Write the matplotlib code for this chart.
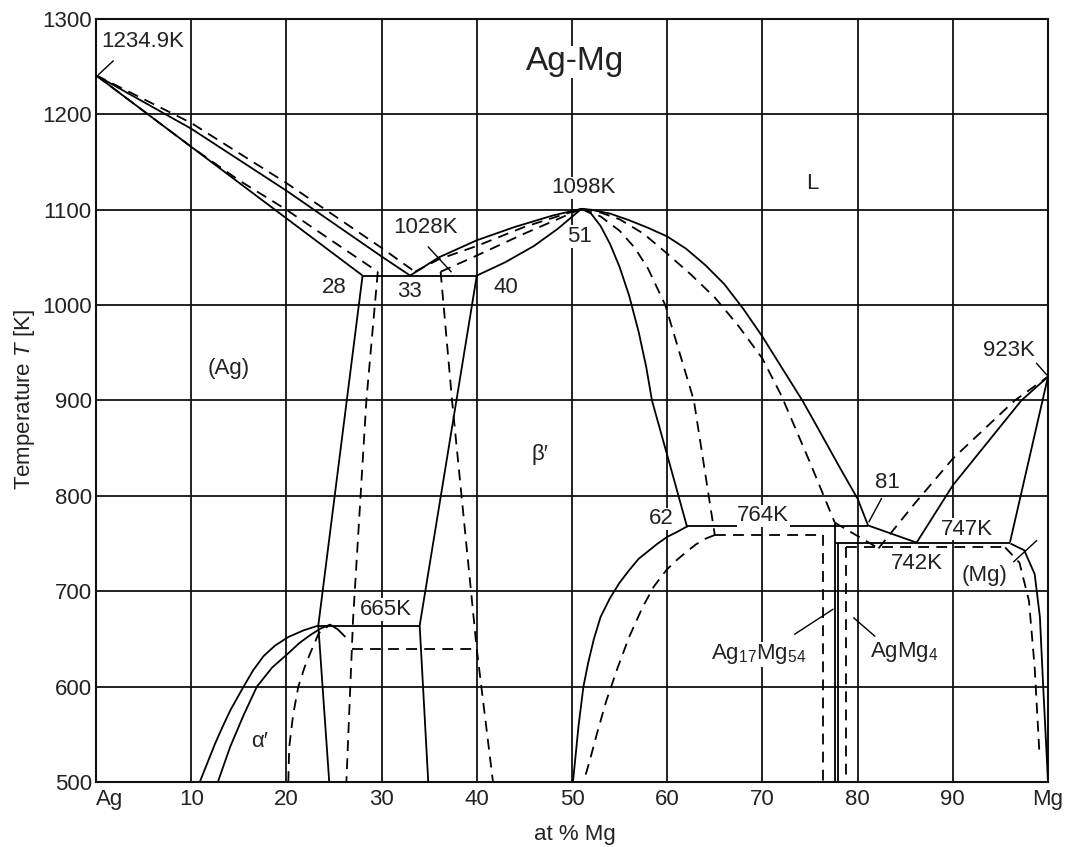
import matplotlib
matplotlib.use('Agg')
import matplotlib.pyplot as plt

plt.rcParams['font.family'] = ['Liberation Sans', 'DejaVu Sans']
plt.rcParams['mathtext.fontset'] = 'custom'
plt.rcParams['mathtext.rm'] = 'Liberation Sans'
plt.rcParams['mathtext.it'] = 'Liberation Sans:italic'

# ---- solid boundaries (x = at % Mg, t = temperature K) ----
liq_ag_x = [0, 10, 20, 30, 33]
liq_ag_t = [1241, 1185, 1120, 1051, 1031]
sol_ag_x = [0, 28]
sol_ag_t = [1241, 1031]
eut1_x = [28, 40]
eut1_t = [1031, 1031]
solvus_ag_x = [28, 23.35]
solvus_ag_t = [1031, 664]
beta_left_x = [40, 34.0, 34.9]
beta_left_t = [1031, 664, 500]
h665_x = [23.35, 34.0]
h665_t = [664, 664]
alpha_right_x = [23.35, 24.5]
alpha_right_t = [664, 500]
alpha_a_x = [10.9, 11.7, 12.5, 13.3, 14.1, 15.5, 16.5, 17.6, 18.8, 20.2, 21.8, 23.35]
alpha_a_t = [500, 520, 540, 558, 575, 600, 617, 632, 643, 652, 659, 664]
alpha_b_x = [12.8, 13.5, 14.1, 15.5, 16.9, 18.5, 20.2, 21.4, 22.5, 23.6, 24.6, 25.4, 26.2]
alpha_b_t = [500, 520, 537, 570, 600, 620, 635, 646, 654, 661, 665, 660, 652]
liq_bl_x = [33, 36, 40, 44, 48, 51]
liq_bl_t = [1031, 1050, 1068, 1082, 1094, 1101]
sol_bl_x = [40, 43, 46, 48.5, 51]
sol_bl_t = [1031, 1045, 1062, 1080, 1101]
sol_br_x = [51, 52, 53, 54, 55, 56, 57, 57.8, 58.4, 60.3, 62.1]
sol_br_t = [1101, 1096, 1083, 1064, 1040, 1010, 972, 935, 900, 832, 767]
liq_br_x = [51, 52, 54, 56, 58, 60, 62, 64, 66, 68, 70, 72, 74.2, 76, 78, 80, 81.1]
liq_br_t = [1101, 1100, 1096, 1089, 1081, 1072, 1059, 1042, 1022, 996, 967, 935, 900, 868, 832, 797, 769]
h764_x = [62.1, 81.1]
h764_t = [768, 768]
beta_low_x = [62.1, 61, 60, 59, 58, 57, 56, 55, 54, 53, 52.3, 51.7, 51.2, 50.7, 50.4, 50.1]
beta_low_t = [768, 762, 757, 750, 742, 734, 722, 709, 693, 673, 650, 625, 600, 560, 530, 500]
ag17_x = [77.6, 77.6]
ag17_t = [772, 500]
agmg4_x = [77.95, 77.95]
agmg4_t = [751, 500]
liq_81_x = [81.1, 86.2]
liq_81_t = [769, 751]
h747_x = [77.6, 96.0]
h747_t = [751, 751]
liq_mg_x = [86.2, 90, 97.2, 100]
liq_mg_t = [751, 811, 900, 925]
sol_mg_x = [100, 96.0]
sol_mg_t = [925, 751]
solvus_mg_x = [96.06, 97.5, 98.6, 99.15, 99.5, 99.75, 100]
solvus_mg_t = [750, 743, 718, 673, 599, 550, 500]

# ---- dashed boundaries ----
d_liq_ag_x = [0, 10, 20, 30, 33.5]
d_liq_ag_t = [1241, 1191, 1128, 1060, 1035]
d_sol_ag_x = [0, 10, 15, 20, 25, 29.6]
d_sol_ag_t = [1241, 1166, 1131, 1100, 1066, 1035]
d_solvus_ag_x = [29.6, 28.4, 27.0, 26.3]
d_solvus_ag_t = [1035, 900, 670, 500]
d_beta_left_x = [36.2, 37.4, 40, 41.7]
d_beta_left_t = [1035, 900, 639, 500]
d_h640_x = [26.9, 40]
d_h640_t = [639, 639]
d_alpha_x = [20.2, 20.3, 20.7, 21.25, 21.9, 22.5, 23.4, 24.6]
d_alpha_t = [500, 537, 570, 600, 620, 635, 656, 665]
d_liq_bl_x = [33.5, 36, 40, 45, 51]
d_liq_bl_t = [1035, 1048, 1062, 1082, 1101]
d_sol_bl_x = [36.2, 40, 45, 51]
d_sol_bl_t = [1035, 1052, 1075, 1101]
d_sol_br_x = [51, 53, 55, 56.6, 58, 59.8, 61.3, 62.8, 65]
d_sol_br_t = [1101, 1093, 1078, 1060, 1038, 1000, 950, 900, 759]
d_liq_br_x = [51, 53, 55, 57.5, 60, 62.5, 65, 67.5, 70, 72, 75, 77.6]
d_liq_br_t = [1101, 1097, 1090, 1075, 1054, 1032, 1008, 978, 944, 905, 835, 772]
d_beta_low_x = [65, 64, 63, 61.75, 60.8, 59.9, 58.6, 57.4, 56, 54.8, 53.6, 52.6, 51.8, 51.2]
d_beta_low_t = [759, 755, 749, 739, 731, 722, 705, 683, 652, 620, 585, 550, 520, 500]
d_h759_x = [65, 76.4]
d_h759_t = [759, 759]
d_v76_x = [76.4, 76.4]
d_v76_t = [759, 500]
d_liq_eut_x = [77.6, 82.2]
d_liq_eut_t = [772, 745]
d_liq_mg_x = [82.2, 86, 90, 96.5, 100]
d_liq_mg_t = [745, 792, 839, 900, 925]
d_h745_x = [78.8, 95.5]
d_h745_t = [746, 746]
d_v79_x = [78.8, 78.8]
d_v79_t = [746, 500]
d_solvus_mg_x = [95.5, 97, 98, 98.6, 99.1]
d_solvus_mg_t = [746, 730, 690, 620, 530]

# ---- leader lines ----
leaders = [
    ([1.8, 0.3], [1256, 1242]),
    ([34.9, 37.3], [1061, 1035]),
    ([82.5, 81.2], [797, 773]),
    ([98.8, 99.85], [939, 927]),
    ([96.4, 98.8], [731, 753]),
    ([73.4, 77.4], [655, 681]),
    ([81.8, 79.6], [653, 672]),
]

# ---- labels ----
label_text = ['1234.9K', '1098K', '51', 'L', '1028K', '28', '33', '40', '(Ag)',
              '923K', 'β′', '81', '62', '764K', '747K', '742K', '(Mg)', '665K',
              'α′', 'Ag$_{17}$Mg$_{54}$', 'AgMg$_4$']
label_x = [4.9, 51.2, 50.8, 75.2, 34.6, 25.0, 32.9, 43.1, 13.9,
           95.9, 46.6, 83.1, 59.4, 70.1, 91.5, 86.2, 93.3, 30.4,
           17.2, 69.6, 84.9]
label_t = [1276, 1123, 1072, 1128, 1081, 1019, 1014, 1019, 934,
           952, 843, 814, 776, 779, 765, 729, 716, 681,
           542, 634, 636]

x_ticks = [0, 10, 20, 30, 40, 50, 60, 70, 80, 90, 100]
x_ticklabels = ['Ag', '10', '20', '30', '40', '50', '60', '70', '80', '90', 'Mg']
y_ticks = [500, 600, 700, 800, 900, 1000, 1100, 1200, 1300]

solid = [
    (liq_ag_x, liq_ag_t), (sol_ag_x, sol_ag_t), (eut1_x, eut1_t),
    (solvus_ag_x, solvus_ag_t), (beta_left_x, beta_left_t), (h665_x, h665_t),
    (alpha_right_x, alpha_right_t), (alpha_a_x, alpha_a_t), (alpha_b_x, alpha_b_t),
    (liq_bl_x, liq_bl_t), (sol_bl_x, sol_bl_t), (sol_br_x, sol_br_t),
    (liq_br_x, liq_br_t), (h764_x, h764_t), (beta_low_x, beta_low_t),
    (ag17_x, ag17_t), (agmg4_x, agmg4_t), (liq_81_x, liq_81_t), (h747_x, h747_t),
    (liq_mg_x, liq_mg_t), (sol_mg_x, sol_mg_t), (solvus_mg_x, solvus_mg_t),
]
dashed = [
    (d_liq_ag_x, d_liq_ag_t), (d_sol_ag_x, d_sol_ag_t), (d_solvus_ag_x, d_solvus_ag_t),
    (d_beta_left_x, d_beta_left_t), (d_h640_x, d_h640_t), (d_alpha_x, d_alpha_t),
    (d_liq_bl_x, d_liq_bl_t), (d_sol_bl_x, d_sol_bl_t), (d_sol_br_x, d_sol_br_t),
    (d_liq_br_x, d_liq_br_t), (d_beta_low_x, d_beta_low_t), (d_h759_x, d_h759_t),
    (d_v76_x, d_v76_t), (d_liq_eut_x, d_liq_eut_t), (d_liq_mg_x, d_liq_mg_t),
    (d_h745_x, d_h745_t), (d_v79_x, d_v79_t), (d_solvus_mg_x, d_solvus_mg_t),
]

fig = plt.figure(figsize=(10.72, 8.47), dpi=100)
ax = fig.add_axes([96 / 1072, 65 / 847, 952 / 1072, 763 / 847])

ax.set_xlim(0, 100)
ax.set_ylim(500, 1300)
ax.set_xticks(x_ticks)
ax.set_xticklabels(x_ticklabels)
ax.set_yticks(y_ticks)
ax.grid(True, color='#111111', lw=1.3, zorder=0)
ax.tick_params(length=0, labelsize=16, colors='#222222')
ax.tick_params(axis='y', pad=3)
ax.tick_params(axis='x', pad=5)
ax.get_xticklabels()[0].set_horizontalalignment('left')
for sp in ax.spines.values():
    sp.set_linewidth(1.5)
    sp.set_color('#111111')

for xs, ts in solid:
    ax.plot(xs, ts, color='black', lw=1.3, solid_capstyle='butt', solid_joinstyle='round', zorder=3)
for xs, ts in dashed:
    ax.plot(xs, ts, color='black', lw=1.3, ls=(0, (6, 4)), zorder=3)
for xs, ts in leaders:
    ax.plot(xs, ts, color='black', lw=1.0, zorder=3)

for s, x, t in zip(label_text, label_x, label_t):
    ax.text(x, t, s, fontsize=16, color='#222222', ha='center', va='center', zorder=4,
            bbox=dict(facecolor='white', edgecolor='none', pad=0.5))

ax.text(50.3, 1255, 'Ag-Mg', fontsize=24, color='#222222', ha='center', va='center', zorder=4,
        bbox=dict(facecolor='white', edgecolor='none', pad=0.5))

fig.text(25 / 1072, (847 - 400) / 847, 'Temperature $T$ [K]', fontsize=16, color='#222222',
         rotation=90, ha='center', va='center')
fig.text(575 / 1072, (847 - 834) / 847, 'at % Mg', fontsize=16, color='#222222',
         ha='center', va='center')

fig.savefig('out.png', dpi=100)
